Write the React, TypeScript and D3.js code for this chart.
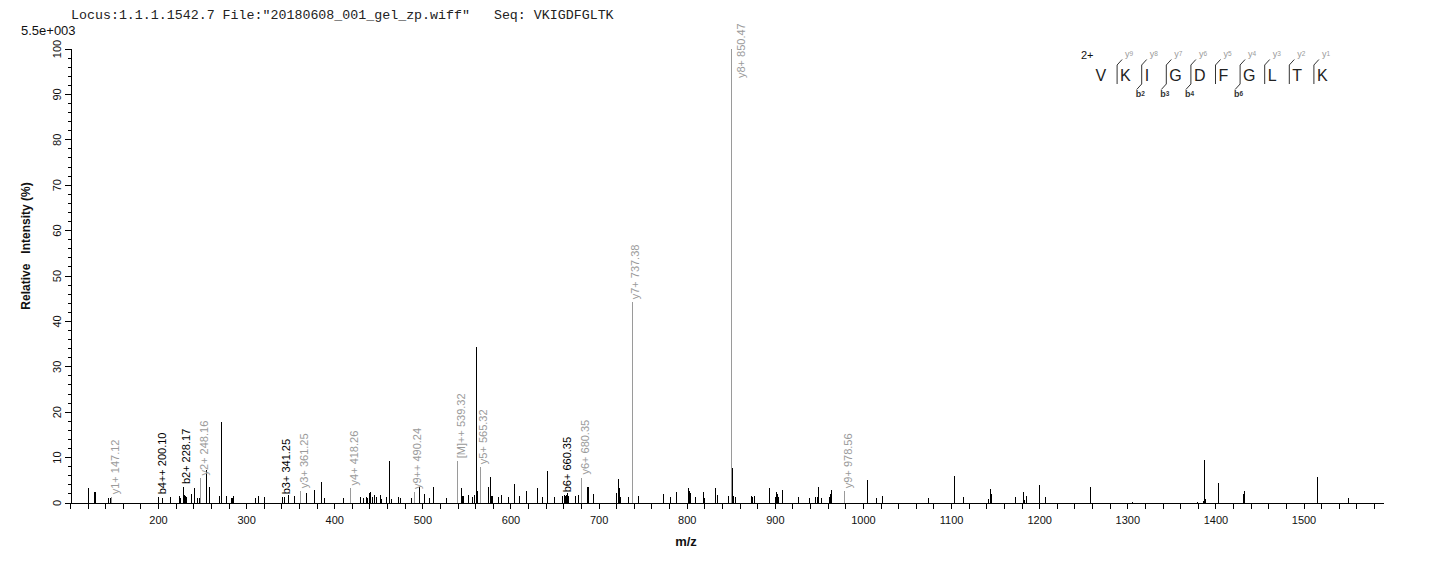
import React from 'react';
import * as d3 from 'd3';

const headerText = 'Locus:1.1.1.1542.7 File:"20180608_001_gel_zp.wiff"   Seq: VKIGDFGLTK';
const scaleLabel = '5.5e+003';
const xTitle = 'm/z';
const yTitle = 'Relative   Intensity (%)';

// unannotated peaks (m/z, relative intensity %)
const peakMz = [
  120.3, 127.1, 129.0, 143.0, 145.0, 204.3, 213.8, 223.6, 225.5, 229.3, 230.2, 231.5,
  237.2, 240.6, 244.0, 246.0, 253.9, 258.4, 269.0, 271.7, 277.3, 283.1, 283.9, 285.4,
  310.6, 313.6, 320.8, 343.0, 347.7, 354.5, 367.7, 376.8, 384.4, 388.2, 409.7, 429.0,
  433.0, 435.6, 437.4, 438.9, 440.4, 443.0, 444.9, 447.5, 451.7, 453.2, 458.5, 461.6,
  462.7, 464.0, 472.0, 475.0, 486.9, 496.0, 502.4, 507.0, 511.8, 527.0, 544.4, 545.5,
  546.6, 551.6, 556.0, 558.5, 560.7, 562.0, 575.0, 576.2, 577.5, 578.6, 585.6, 589.4,
  597.0, 603.8, 609.5, 617.8, 629.9, 635.5, 641.2, 649.9, 658.3, 662.3, 663.4, 664.6,
  665.7, 673.0, 676.8, 686.6, 687.7, 694.2, 719.5, 721.8, 723.0, 724.5, 733.1, 744.5,
  773.2, 781.2, 788.0, 801.2, 802.3, 803.9, 809.6, 818.3, 819.4, 831.9, 834.2, 846.6,
  851.2, 852.7, 855.0, 873.2, 874.3, 876.1, 893.5, 899.9, 901.0, 902.2, 903.3, 908.3,
  926.0, 938.5, 945.3, 947.6, 948.7, 952.1, 961.2, 962.7, 964.2, 1004.8, 1015.0, 1021.4,
  1073.6, 1103.3, 1113.3, 1141.7, 1143.9, 1145.0, 1172.3, 1181.4, 1182.5, 1184.8, 1199.5, 1206.7,
  1257.4, 1305.0, 1378.8, 1386.0, 1387.2, 1388.3, 1402.7, 1431.0, 1432.0, 1515.0, 1550.2,
];
const peakIntensity = [
  3.3, 2.35, 2.35, 1.1, 1.1, 1.1, 1.25, 1.5, 1.0, 1.8, 1.5, 1.3,
  1.9, 3.4, 1.1, 1.1, 7.35, 3.5, 1.5, 17.8, 1.5, 1.0, 1.2, 1.5,
  1.1, 1.5, 1.3, 1.3, 1.7, 1.5, 2.2, 2.8, 4.55, 1.1, 1.0, 1.25,
  1.1, 1.25, 1.0, 2.1, 2.35, 1.3, 1.7, 1.3, 1.7, 0.8, 1.3, 9.2,
  3.3, 0.8, 1.3, 1.2, 1.2, 3.6, 2.0, 1.2, 3.6, 1.2, 3.2, 1.6,
  1.5, 1.7, 1.3, 1.7, 34.4, 2.6, 3.5, 5.7, 1.5, 1.5, 1.3, 1.7,
  1.3, 4.1, 1.5, 2.6, 3.2, 1.25, 7.05, 1.4, 1.6, 1.5, 1.8, 2.1,
  1.5, 1.5, 1.8, 3.45, 3.45, 1.9, 2.2, 5.3, 3.3, 1.25, 1.25, 1.5,
  2.0, 1.25, 2.35, 3.2, 2.6, 2.2, 1.25, 2.35, 1.0, 3.2, 1.8, 1.5,
  7.8, 1.5, 1.25, 1.5, 1.3, 1.5, 3.3, 1.25, 2.35, 2.0, 1.25, 2.8,
  1.25, 1.1, 1.25, 1.25, 3.45, 1.1, 1.25, 2.0, 2.8, 5.1, 1.1, 1.5,
  1.1, 6.0, 1.3, 0.8, 3.0, 2.0, 1.3, 2.4, 0.7, 1.5, 4.0, 1.3,
  3.5, 0.3, 0.25, 0.4, 9.4, 0.9, 4.4, 2.0, 2.65, 5.7, 1.1,
];

// annotated fragment peaks
const annMz = [147.12, 200.10, 228.17, 248.16, 341.25, 361.25, 418.26, 490.24, 539.32, 565.32, 660.35, 680.35, 737.38, 850.47, 978.56];
const annIntensity = [1.25, 1.25, 3.5, 5.4, 1.25, 2.6, 3.2, 2.4, 9.2, 7.9, 1.7, 5.6, 44.2, 100, 2.6];
const annLabel = ['y1+ 147.12', 'b4++ 200.10', 'b2+ 228.17', 'y2+ 248.16', 'b3+ 341.25', 'y3+ 361.25', 'y4+ 418.26', 'y9++ 490.24', '[M]++ 539.32', 'y5+ 565.32', 'b6+ 660.35', 'y6+ 680.35', 'y7+ 737.38', 'y8+ 850.47', 'y9+ 978.56'];
const annType = ['y', 'b', 'b', 'y', 'b', 'y', 'y', 'y', 'y', 'y', 'b', 'y', 'y', 'y', 'y'];

const xTickLabels = [200, 300, 400, 500, 600, 700, 800, 900, 1000, 1100, 1200, 1300, 1400, 1500];
const yTickLabels = [0, 10, 20, 30, 40, 50, 60, 70, 80, 90, 100];

const sequence = ['V', 'K', 'I', 'G', 'D', 'F', 'G', 'L', 'T', 'K'];
const yIonsSeen = [1, 2, 3, 4, 5, 6, 7, 8, 9];
const bIonsSeen = [2, 3, 4, 6];
const precursorCharge = '2+';

const FONT = 'Arial, "Liberation Sans", sans-serif';
const GRAY = '#9a9a9a';

export default function App() {
  const W = 1436, H = 562;
  const x = d3.scaleLinear().domain([100, 1591]).range([70.4, 1384.2]);
  const y = d3.scaleLinear().domain([0, 100]).range([503, 49]);
  const x0 = x(100), yBase = y(0);

  const minorX = d3.range(100, 1591, 20);
  const minorY = d3.range(0, 101, 2);

  const peaks = peakMz.map((m, i) => ({ m, v: peakIntensity[i] }));
  const anns = annMz.map((m, i) => ({ m, v: annIntensity[i], label: annLabel[i], type: annType[i] }));

  // sequence layout
  const seqX0 = 1092.5, slot = 24.6;
  const n = sequence.length;

  return (
    <svg width={W} height={H} style={{ position: 'absolute', left: 0, top: 0, background: '#fff' }} fontFamily={FONT}>
      <rect x={0} y={0} width={W} height={H} fill="#fff" />
      <text x={71} y={19} fontFamily={'"Courier New", "Liberation Mono", monospace'} fontSize={13.3} fill="#222" style={{ whiteSpace: 'pre' }}>{headerText}</text>
      <text x={21} y={35} fontSize={13} fill="#111">{scaleLabel}</text>

      {/* peaks */}
      <g>
        {peaks.map((p, i) => (
          <line key={'p' + i} x1={x(p.m)} x2={x(p.m)} y1={yBase} y2={y(p.v)} stroke="#000" strokeWidth={1} shapeRendering="crispEdges" />
        ))}
        {anns.map((a, i) => (
          <line key={'a' + i} x1={x(a.m)} x2={x(a.m)} y1={yBase} y2={y(a.v)} stroke={a.type === 'y' ? GRAY : '#000'} strokeWidth={1} shapeRendering="crispEdges" />
        ))}
        {anns.map((a, i) => {
          const top = y(a.v) - 3;
          const clamped = top < 78;
          const ly = clamped ? 78 : top;
          const lx = x(a.m) + (clamped ? 13 : 7);
          return (
            <text key={'al' + i} transform={`translate(${lx},${ly}) rotate(-90)`} fontSize={11} fill={a.type === 'y' ? GRAY : '#000'}>{a.label}</text>
          );
        })}
      </g>

      {/* x axis */}
      <line x1={x0} x2={x(1591)} y1={yBase} y2={yBase} stroke="#000" strokeWidth={1} shapeRendering="crispEdges" />
      {minorX.map((t) => (
        <line key={'xt' + t} x1={x(t)} x2={x(t)} y1={yBase} y2={yBase + 6} stroke="#000" shapeRendering="crispEdges" />
      ))}
      {xTickLabels.map((t) => (
        <text key={'xl' + t} x={x(t)} y={524} fontSize={11} textAnchor="middle" fill="#111">{t}</text>
      ))}
      <text x={686} y={546} fontSize={13} fontWeight="bold" textAnchor="middle" fill="#111">{xTitle}</text>

      {/* y axis */}
      <line x1={71} x2={71} y1={yBase} y2={y(100)} stroke="#000" shapeRendering="crispEdges" />
      {minorY.map((t) => (
        <line key={'yt' + t} x1={t % 10 === 0 ? 65 : 67.5} x2={71} y1={y(t)} y2={y(t)} stroke="#000" shapeRendering="crispEdges" />
      ))}
      {yTickLabels.map((t) => (
        <text key={'yl' + t} transform={`translate(61,${y(t)}) rotate(-90)`} fontSize={11} textAnchor="middle" fill="#111">{t}</text>
      ))}
      <text transform={`translate(30,246) rotate(-90)`} fontSize={12} fontWeight="bold" textAnchor="middle" fill="#111" style={{ whiteSpace: 'pre' }}>{yTitle}</text>

      {/* sequence diagram */}
      <g>
        <text x={1081} y={59} fontSize={11} fill="#111">{precursorCharge}</text>
        {sequence.map((r, i) => (
          <text key={'r' + i} x={seqX0 + i * slot + 3} y={81} fontSize={16} fill="#222">{r}</text>
        ))}
        {d3.range(1, n).map((k) => {
          const sx = seqX0 + k * slot;
          const yIdx = n - k;
          const hasY = yIonsSeen.includes(yIdx);
          const hasB = bIonsSeen.includes(k);
          return (
            <g key={'c' + k}>
              <line x1={sx} x2={sx} y1={65} y2={84} stroke="#333" strokeWidth={1} />
              {hasY && <line x1={sx} x2={sx + 5} y1={65} y2={59.5} stroke="#333" strokeWidth={1} />}
              {hasB && <line x1={sx} x2={sx - 5} y1={84} y2={89.5} stroke="#333" strokeWidth={1} />}
              <text x={sx + 8} y={57} fontSize={9} fill={GRAY}>
                y<tspan fontSize={6.5} dy={-1}>{yIdx}</tspan>
              </text>
              {hasB && (
                <text x={sx - 6} y={97} fontSize={9} fontWeight="bold" fill="#333">
                  b<tspan fontSize={6.5} dy={-1}>{k}</tspan>
                </text>
              )}
            </g>
          );
        })}
      </g>
    </svg>
  );
}
